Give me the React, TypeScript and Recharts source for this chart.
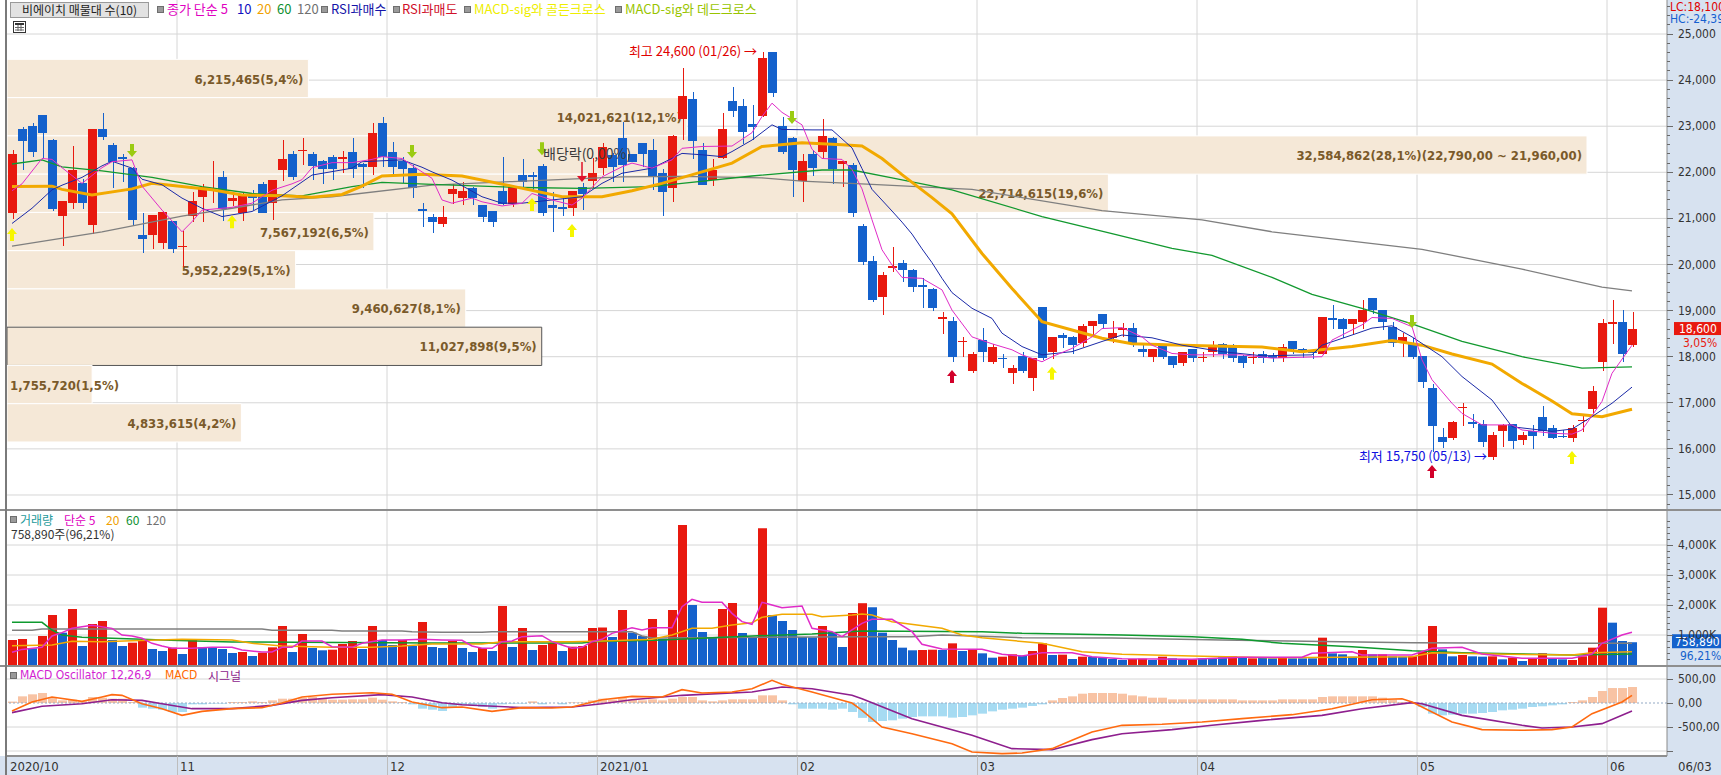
import React from 'react';
import { ComposedChart, Bar, Line, XAxis, YAxis, ReferenceArea, ReferenceDot, ReferenceLine, Cell } from 'recharts';

// ---------------- DATA ----------------
const OPEN = [21120,22940,23000,23240,22700,21050,21330,21760,20860,22940,22590,22330,22090,20640,20630,20470,20940,20400,21050,21470,21630,21890,21370,21120,21490,21740,21330,22040,22400,22480,22400,22250,22330,22280,22450,22180,22120,23060,22450,22250,22090,21200,21040,20870,21520,21440,21650,21290,21150,21600,21310,21940,21940,22140,21290,21240,21220,21690,21810,22090,22370,22750,22390,22630,22480,21980,21670,23150,23580,22480,21830,22320,23550,23440,23050,23220,24600,23000,22750,21820,22390,22430,22740,22170,22160,20840,20080,19300,19950,20040,19880,19550,19470,18810,18770,18330,17690,18360,17890,17980,17650,18020,17530,19070,18110,18470,18430,18300,18670,18920,18410,18600,18630,18160,18000,18250,18020,17860,18160,17990,18110,18270,18200,18020,17990,18060,18020,17970,18330,18160,18120,18060,18830,18820,18720,18760,19270,19010,18640,18300,18280,18020,17320,16260,16230,16890,16590,16540,15830,16390,16540,16190,16390,16700,16450,16280,16240,16610,16860,17890,18740,18750,18250];
const HIGH = [22480,22990,23060,23250,22720,21380,22560,21850,22940,23290,22630,22400,22110,21120,21070,21150,20950,20730,21580,21750,22250,22030,21500,21580,21620,21780,21830,22700,22470,22740,22450,22270,22380,22470,22740,22200,23060,23190,22650,22340,22160,21330,21100,21260,21740,21780,21690,21300,21150,22340,21720,22290,22000,22170,21580,21440,21590,21760,22300,22630,22420,23100,22400,22630,22720,22080,22800,24260,23740,22630,22280,23290,23860,23580,23450,24600,24600,23190,22760,22390,22480,23160,22760,22250,22200,20870,20190,19840,20370,20090,19900,19700,19480,18960,18860,18430,18110,18630,18280,18050,17820,18110,17980,19070,18430,18510,18450,18700,18780,18920,18770,18730,18730,18300,18160,18280,18020,18110,18160,18110,18330,18290,18280,18040,18110,18120,18080,18280,18330,18190,18160,18870,19120,18830,18820,19230,19270,19010,18760,18510,18410,18020,17400,16450,16600,17000,16760,16630,16370,16540,16540,16370,16520,16920,16520,16400,16510,16740,17370,18820,19230,19010,18980];
const LOW = [20990,22050,22340,22300,21150,20410,21200,21200,20660,22700,21670,21800,20830,20260,20340,20340,20250,19950,20930,20930,21330,20950,21260,20950,21180,21120,20970,21820,21830,22160,21830,21750,21830,21990,21870,21650,21940,22120,21920,21760,21450,20820,20680,20820,21310,21290,21280,20930,20820,21290,21250,21650,21600,21060,20710,21060,21060,21180,21650,21940,21800,21800,22230,22120,21620,21060,21360,22700,22280,21720,21710,22290,23190,22610,22700,23200,23640,22390,21470,21360,21910,22280,21740,21690,21040,20000,19180,18900,19840,19610,19410,19060,19000,18490,17890,18000,17650,17890,17840,17750,17400,17650,17250,17930,17960,18180,18060,18200,18430,18610,18300,18430,18220,18000,17890,17960,17750,17800,17880,17890,18000,17950,17890,17750,17840,17860,17890,17890,18060,17970,17950,18030,18590,18410,18460,18600,18920,18580,18200,18000,17950,17320,15940,16010,16200,16500,16450,16050,15750,16050,15990,16090,15990,16280,16210,16230,16140,16370,16770,17700,18280,17890,18200];
const CLOSE = [22400,22690,22430,22850,21200,21380,22050,21330,22940,22770,22230,22290,20970,20550,21070,21130,20330,20410,21380,21690,21660,21200,21440,21520,21440,21120,21830,22290,21890,22490,22140,22070,22070,22340,22070,22120,22860,22330,22120,22070,21670,21170,20930,21040,21640,21600,21440,21020,20930,21310,21690,21780,21890,21110,21220,21220,21590,21520,21980,22540,22120,22160,22230,22390,21930,21580,22790,23660,22690,21720,22050,22940,23340,22880,22990,24490,23730,22430,22040,22250,22090,22790,22070,22250,21120,20060,19220,19770,19960,19870,19520,19520,19060,18870,18000,18350,18050,18110,18220,17960,17750,17700,17970,17970,18430,18410,18250,18670,18770,18720,18510,18620,18300,18110,18160,18000,17820,18110,17970,18000,18220,18060,17970,17860,18000,17970,17970,18220,18160,18110,18080,18870,18810,18600,18820,19010,19010,18760,18300,18420,18000,17460,16500,16140,16590,16910,16530,16140,16300,16520,16180,16300,16290,16380,16240,16260,16450,16630,17260,18730,18750,18050,18600];
// volume in thousands of shares
const VOLUME = [833,867,556,967,1667,1078,1867,633,1367,1467,833,633,744,833,533,467,578,367,856,589,580,533,400,433,300,411,589,1300,433,1033,567,490,510,700,800,533,1300,833,667,833,633,1433,600,567,800,567,433,567,467,1967,600,1233,500,667,733,467,611,633,1233,1250,933,1833,1078,967,1533,878,1833,4667,2000,1100,933,1867,2067,1067,933,4556,1667,1467,1167,933,920,1300,1100,600,1733,2060,1925,1078,833,578,490,500,510,500,722,467,522,389,244,278,356,311,467,722,333,345,200,278,268,244,200,167,200,210,167,278,222,200,189,222,222,256,289,256,222,256,222,256,222,222,222,911,389,356,278,500,356,356,289,278,289,444,1300,522,289,333,289,278,289,189,244,133,222,389,222,189,167,289,578,1911,1411,800,759];
// volume bar colour, 10 bars per group: r = red, b = blue
const VOL_DIR = ['rrbrrbrbrr','bbrrbbrbrb','bbbrbrrrbr','bbrrrbrbbr','brbbrbbrbr','brbrrbrrrr','brbbrbrrbb','brrbbrbbbb','brbbrrbbbb','brrbrbrbbr','rbrrbrbrbb','bbrrbrbbrb','bbrbrbbrbb','brbbbrbrbb','rrrbbrbbrb','rbrrbbrrrr','bbb'].join('');
const OSC = [30,139,181,208,125,55,69,35,125,111,90,90,21,-97,-118,-139,-187,-187,-28,-28,-14,-14,21,21,35,21,55,90,90,111,125,90,69,69,76,76,111,69,35,21,-28,-118,-139,-167,-83,-49,-49,-83,-118,-28,-14,-14,35,-28,0,-28,14,14,55,90,69,111,69,55,76,55,90,125,125,55,35,55,76,76,76,160,160,55,-28,-118,-118,-118,-139,-118,-187,-310,-396,-375,-361,-326,-292,-278,-278,-278,-305,-292,-257,-222,-174,-139,-118,-97,-62,-28,55,104,139,194,208,208,208,194,160,139,111,111,76,76,76,76,76,76,76,55,55,55,55,76,76,76,76,125,139,139,139,139,139,111,76,21,-7,-83,-222,-257,-243,-222,-222,-208,-187,-153,-139,-118,-83,-69,-49,-28,21,55,125,250,312,312,333];

// moving averages: [candle index, value]
const MA5_PTS = [[0,21600],[1,21750],[3,22300],[4,22280],[5,22100],[7,21760],[9,22100],[10,22230],[12,22270],[13,21700],[15,21180],[17,20710],[18,20930],[19,21180],[22,21240],[24,21330],[26,21610],[28,21750],[29,21840],[30,22100],[32,22210],[34,22210],[36,22280],[37,22340],[39,22300],[40,22150],[42,21870],[43,21400],[44,21330],[46,21440],[47,21360],[49,21270],[51,21330],[52,21540],[54,21400],[56,21290],[57,21440],[59,21900],[61,22120],[62,22200],[64,22090],[66,22270],[67,22520],[69,22560],[72,22570],[74,22860],[75,23210],[76,23500],[77,23300],[79,23030],[80,22500],[81,22300],[83,22280],[84,22060],[85,21640],[86,20970],[87,20320],[88,19990],[89,19720],[91,19700],[93,19450],[94,19010],[96,18430],[98,18280],[100,18150],[101,18040],[103,17890],[104,18000],[106,18180],[108,18430],[109,18610],[111,18630],[113,18430],[114,18250],[116,18070],[118,18040],[123,18040],[126,17970],[131,18000],[132,18360],[135,18690],[136,18850],[138,18830],[140,18650],[141,17930],[142,17500],[144,16990],[145,16770],[147,16520],[150,16520],[151,16410],[154,16340],[156,16320],[157,16410],[159,17030],[160,17640],[162,18250]];
const MA10_PTS = [[0,20890],[2,21220],[4,21620],[5,21720],[7,21890],[9,22140],[10,22240],[12,22090],[13,21850],[15,21730],[17,21440],[19,21220],[21,21040],[24,21150],[27,21490],[30,21940],[34,22090],[35,22230],[39,22270],[41,22110],[42,22010],[44,21830],[47,21470],[49,21330],[51,21330],[54,21400],[57,21470],[59,21760],[61,21980],[64,22090],[67,22410],[69,22380],[71,22340],[72,22450],[74,22700],[76,23030],[77,22930],[80,22920],[82,22920],[84,22530],[85,22080],[86,21630],[88,21160],[89,20920],[90,20660],[91,20340],[92,20040],[93,19700],[94,19390],[96,19050],[98,18830],[99,18510],[101,18220],[103,18040],[106,18110],[109,18330],[111,18470],[114,18410],[117,18250],[121,18110],[125,18020],[130,18040],[131,18250],[134,18470],[136,18620],[138,18670],[140,18430],[143,18000],[145,17570],[148,17060],[150,16480],[154,16380],[156,16430],[158,16700],[160,16990],[162,17340]];
const MA20_PTS = [[0,21690],[4,21700],[5,21630],[8,21510],[12,21640],[14,21760],[17,21690],[20,21620],[23,21510],[27,21490],[30,21460],[33,21520],[35,21700],[37,21920],[41,21960],[45,21920],[50,21700],[55,21470],[59,21470],[62,21600],[65,21760],[69,22010],[72,22200],[75,22560],[79,22640],[83,22600],[85,22570],[87,22300],[89,21950],[92,21450],[94,21100],[97,20240],[100,19480],[103,18760],[106,18580],[109,18400],[112,18280],[119,18240],[125,18210],[129,18110],[134,18220],[138,18350],[141,18250],[144,18060],[148,17840],[151,17420],[154,17040],[156,16760],[159,16700],[162,16860]];
const MA60_PTS = [[0,22180],[3,22270],[5,22120],[9,22030],[14,21890],[19,21690],[24,21540],[29,21490],[34,21690],[37,21780],[42,21740],[51,21670],[57,21650],[64,21690],[67,21760],[74,21920],[81,22050],[84,22050],[88,21880],[94,21620],[103,21040],[110,20670],[116,20350],[120,20200],[126,19720],[130,19350],[135,19050],[140,18710],[145,18330],[151,18000],[157,17750],[162,17780]];
const MA120_PTS = [[0,20400],[9,20710],[17,21050],[22,21220],[27,21400],[32,21470],[42,21720],[50,21800],[61,21900],[67,21910],[75,21880],[79,21810],[86,21740],[96,21630],[109,21170],[119,20970],[126,20710],[141,20330],[151,19900],[159,19510],[162,19430]];
const VMA5_PTS = [[0,422],[1,520],[3,590],[4,967],[5,1078],[6,1222],[8,1322],[10,1222],[11,1000],[12,967],[13,889],[14,722],[15,633],[16,556],[18,556],[20,589],[22,589],[23,500],[25,433],[26,433],[27,589],[28,589],[29,800],[31,800],[32,611],[34,589],[35,722],[37,833],[39,833],[41,856],[43,833],[45,822],[46,633],[47,556],[48,556],[49,778],[50,800],[51,944],[53,978],[54,778],[55,667],[56,556],[57,589],[58,778],[59,856],[60,1056],[62,1244],[63,1167],[64,1244],[66,1244],[67,1944],[68,2189],[69,2089],[71,2089],[72,1722],[73,1444],[74,1356],[75,2089],[76,2000],[77,1911],[79,1967],[80,1222],[82,1111],[83,944],[84,1167],[85,1389],[86,1522],[88,1522],[90,1111],[91,689],[93,533],[97,522],[99,356],[101,300],[103,411],[106,411],[108,278],[111,211],[118,189],[123,256],[129,256],[130,389],[134,444],[135,333],[140,333],[142,556],[145,589],[147,367],[151,222],[156,222],[158,367],[159,722],[161,1000],[162,1089]];
const VMA20_PTS = [[0,644],[4,667],[6,789],[9,778],[12,811],[17,856],[22,833],[24,722],[27,633],[32,589],[36,589],[39,633],[42,700],[47,700],[49,778],[56,778],[60,811],[64,856],[66,1000],[68,1222],[70,1222],[72,1333],[74,1411],[75,1589],[77,1689],[80,1689],[81,1611],[84,1667],[85,1700],[86,1667],[88,1444],[93,1222],[95,1000],[97,911],[103,722],[107,444],[111,356],[118,300],[126,244],[140,278],[142,411],[148,367],[156,333],[158,411],[162,444]];
const VMA60_PTS = [[0,1422],[3,1422],[4,1167],[5,1000],[7,922],[10,889],[13,856],[15,833],[22,767],[42,733],[57,733],[58,778],[65,833],[74,967],[80,1033],[85,1133],[97,1111],[101,1056],[111,1000],[118,944],[123,856],[127,722],[134,611],[140,478],[145,411],[156,333],[162,367]];
const VMA120_PTS = [[0,1156],[2,1156],[3,1200],[25,1200],[26,1156],[32,1156],[33,1133],[39,1133],[40,1111],[43,1089],[47,1089],[48,1111],[62,1111],[63,967],[64,900],[85,944],[90,944],[93,1000],[101,911],[110,900],[121,833],[140,744],[156,722],[162,722]];
const MACD_PTS = [[0,-167],[2,21],[4,125],[7,35],[9,125],[10,174],[11,160],[13,-14],[15,-118],[17,-257],[19,-174],[22,-118],[25,-97],[27,0],[29,125],[32,181],[36,215],[38,181],[40,21],[43,-97],[45,-83],[48,-174],[51,-97],[54,-104],[56,-83],[59,69],[62,139],[65,125],[67,278],[69,208],[72,229],[74,298],[76,472],[77,389],[80,229],[84,0],[85,-153],[87,-500],[90,-639],[94,-847],[96,-1020],[99,-1055],[101,-1041],[104,-951],[106,-778],[108,-604],[111,-465],[115,-444],[119,-396],[123,-326],[128,-243],[132,-118],[136,69],[139,90],[140,21],[142,-187],[144,-396],[147,-555],[151,-569],[154,-555],[156,-500],[158,-222],[161,21],[162,160]];
const SIGNAL_PTS = [[0,-201],[3,-69],[7,-14],[10,69],[13,55],[15,-14],[18,-118],[22,-118],[26,-49],[29,55],[32,111],[37,174],[40,125],[43,7],[45,-35],[51,-97],[56,-83],[59,-14],[62,69],[67,160],[74,229],[77,333],[80,298],[84,160],[85,90],[90,-326],[96,-673],[100,-951],[104,-972],[108,-763],[111,-639],[116,-555],[120,-465],[125,-361],[131,-257],[135,-118],[140,7],[141,-14],[145,-257],[151,-465],[153,-521],[156,-500],[159,-430],[162,-167]];

// month starts (candle index) and their labels
const MONTH_START = [0,17,38,59,79,97,119,141,160];
const MONTH_LABEL = ['2020/10','11','12','2021/01','02','03','04','05','06'];

// volume-at-price (매물대) bands
const VP_VOLUME = [6215465,14021621,32584862,22714615,7567192,5952229,9460627,11027898,1755720,4833615];
const VP_LABEL = ['6,215,465(5,4%)','14,021,621(12,1%)','32,584,862(28,1%)(22,790,00 ~ 21,960,00)','22,714,615(19,6%)','7,567,192(6,5%)','5,952,229(5,1%)','9,460,627(8,1%)','11,027,898(9,5%)','1,755,720(1,5%)','4,833,615(4,2%)'];
const VP_TOP = 24450;
const VP_STEP = 830;
const VP_CURRENT = 7;

// signals
const GOLDEN_IDX = [0,22,52,56,104,156];
const GOLDEN_PRICE = [20790,21070,21440,20880,17780,15955];
const DEAD_IDX = [12,40,53,78,140];
const DEAD_PRICE = [22330,22310,22370,23050,18620];
const RSI_LOW_IDX = [94,142];
const RSI_LOW_PRICE = [17710,15650];
const RSI_HIGH_IDX = [57];
const RSI_HIGH_PRICE = [21790];

const PRICE_MAJOR = [15000,16000,17000,18000,19000,20000,21000,22000,23000,24000,25000];
const VOL_MAJOR = [1000,2000,3000,4000];
const MACD_MAJOR = [500,0,-500,-1000];

const HIGH_TEXT = '최고 24,600 (01/26) →';
const LOW_TEXT = '최저 15,750 (05/13) →';
const HIGH_IDX = 75; const HIGH_VAL = 24600;
const LOW_IDX = 148; const LOW_VAL = 15750;
const DIV_TEXT = '배당락(0,00%)';
const DIV_IDX = 53; const DIV_PRICE = 22390;
const LAST_PRICE_TEXT = '18,600';
const LAST_CHANGE_TEXT = '3,05%';
const LAST_VOL_TEXT = '758,890';
const LAST_VOL_PCT = '96,21%';

// ---------------- LAYOUT / STYLE ----------------
const W = 1721;
const N_SLOTS = 166;
const PLOT_LEFT = 7;
const AXIS_W = 54;
const SLOT_HALF = (W - PLOT_LEFT - AXIS_W) / N_SLOTS / 2;
const PRICE_DOMAIN = [14696, 25738];
const VOL_DOMAIN = [0, 5167];
const MACD_DOMAIN = [-1104, 771];
const VP_AXIS_MAX = 34234705;
const VP_CHAR_W = 7;
const FONT = "'DejaVu Sans Condensed','Liberation Sans Narrow','Noto Sans CJK KR',sans-serif";
const KFONT = "'Noto Sans CJK KR','DejaVu Sans Condensed',sans-serif";
const RED = '#E8190F';
const BLUE = '#1461CC';
const GRID = '#D6D6D6';
const AXIS_BG = '#D7E2F0';
const SEP = '#8E8E8E';

const rows: any[] = [];
for (let i = 0; i < N_SLOTS; i++) {
  const has = i < CLOSE.length;
  rows.push({
    idx: i,
    o: has ? OPEN[i] : null, h: has ? HIGH[i] : null, l: has ? LOW[i] : null, c: has ? CLOSE[i] : null,
    range: has ? [LOW[i], HIGH[i]] : null,
    vol: has ? VOLUME[i] : null,
    volUp: VOL_DIR[i] === 'r',
    osc: has ? OSC[i] : null,
    ma5: null, ma10: null, ma20: null, ma60: null, ma120: null,
    vm5: null, vm20: null, vm60: null, vm120: null, macd: null, sig: null,
  });
}
const put = (pts: number[][], key: string) => pts.forEach(([i, v]) => { rows[i][key] = v; });
put(MA5_PTS, 'ma5'); put(MA10_PTS, 'ma10'); put(MA20_PTS, 'ma20'); put(MA60_PTS, 'ma60'); put(MA120_PTS, 'ma120');
put(VMA5_PTS, 'vm5'); put(VMA20_PTS, 'vm20'); put(VMA60_PTS, 'vm60'); put(VMA120_PTS, 'vm120');
put(MACD_PTS, 'macd'); put(SIGNAL_PTS, 'sig');

const withMinor = (majors: number[], step: number, count: number) => {
  const out: number[] = [];
  majors.forEach((m) => { for (let k = -count; k <= count; k++) out.push(m + k * step); });
  return Array.from(new Set(out)).sort((a, b) => a - b);
};
const PRICE_TICKS = withMinor(PRICE_MAJOR, 200, 4).filter((v) => v > PRICE_DOMAIN[0] && v < PRICE_DOMAIN[1]);
const VOL_TICKS = withMinor(VOL_MAJOR, 200, 4).filter((v) => v > 0 && v < VOL_DOMAIN[1]);

// ---------------- SHAPES ----------------
const Candle = (props: any) => {
  const { x, y, width, height, payload } = props;
  if (!payload || payload.h == null) return null;
  const top = Math.min(y, y + height);
  const bot = Math.max(y, y + height);
  const { o, h, l, c } = payload;
  const span = h - l;
  const py = (v: number) => (span > 0 ? top + ((h - v) / span) * (bot - top) : top);
  const color = c >= o ? RED : BLUE;
  const cx = Math.round(x + width / 2);
  const bTop = py(Math.max(o, c));
  const bBot = py(Math.min(o, c));
  return (
    <g shapeRendering="crispEdges">
      <line x1={cx} x2={cx} y1={top} y2={bot} stroke={color} strokeWidth={1} />
      <rect x={Math.round(x)} y={bTop} width={width} height={Math.max(1.5, bBot - bTop)} fill={color} />
    </g>
  );
};

const upArrow = (color: string) => (p: any) => {
  const { cx, cy } = p;
  return <path d={`M${cx} ${cy} L${cx + 5} ${cy + 6} L${cx + 2} ${cy + 6} L${cx + 2} ${cy + 13} L${cx - 2} ${cy + 13} L${cx - 2} ${cy + 6} L${cx - 5} ${cy + 6} Z`} fill={color} />;
};
const downArrow = (color: string) => (p: any) => {
  const { cx, cy } = p;
  return <path d={`M${cx} ${cy} L${cx + 5} ${cy - 6} L${cx + 2} ${cy - 6} L${cx + 2} ${cy - 13} L${cx - 2} ${cy - 13} L${cx - 2} ${cy - 6} L${cx - 5} ${cy - 6} Z`} fill={color} />;
};
const thinDownArrow = (color: string) => (p: any) => {
  const { cx, cy } = p;
  return (
    <g>
      <rect x={cx - 0.75} y={cy - 20} width={1.5} height={15} fill={color} />
      <path d={`M${cx} ${cy} L${cx + 5} ${cy - 6} L${cx - 5} ${cy - 6} Z`} fill={color} />
    </g>
  );
};

const makeTick = (majors: number[], fmt: (v: number) => string) => (props: any) => {
  const { x, y, payload } = props;
  const v = payload.value;
  const major = majors.includes(v);
  return (
    <g>
      <line x1={x} x2={x + (major ? 6 : 3)} y1={y} y2={y} stroke="#6a6a6a" shapeRendering="crispEdges" />
      {major && fmt(v) !== '' && (
        <text x={x + 11} y={y} dy={4} fontSize={12} fill="#333" fontFamily={FONT}>{fmt(v)}</text>
      )}
    </g>
  );
};
const PriceTick = makeTick(PRICE_MAJOR, (v) => v.toLocaleString('en-US'));
const VolTick = makeTick(VOL_MAJOR, (v) => `${v.toLocaleString('en-US')}K`);
const MacdTick = makeTick(MACD_MAJOR, (v) => (v === -1000 ? '' : `${v.toLocaleString('en-US')},00`));

const DateTick = (props: any) => {
  const { x, y, payload } = props;
  const k = MONTH_START.indexOf(Number(payload.value));
  const lx = Math.round(x - SLOT_HALF);
  return (
    <g>
      {k > 0 && <line x1={lx} x2={lx} y1={y} y2={y + 19} stroke="#BDBDBD" shapeRendering="crispEdges" />}
      <text x={lx + 3} y={y + 15} fontSize={13} fill="#333" fontFamily={FONT}>{k >= 0 ? MONTH_LABEL[k] : ''}</text>
    </g>
  );
};

const BandLabel = (text: string) => (p: any) => {
  const fits = p.cx - 5 - text.length * VP_CHAR_W > PLOT_LEFT;
  return (
    <text x={fits ? p.cx - 5 : PLOT_LEFT + 3} y={p.cy} dy={5} textAnchor={fits ? 'end' : 'start'} fontSize={13} fontWeight={700} fill="#7A5A2A" fontFamily={FONT}>{text}</text>
  );
};

const monthLines = MONTH_START.slice(1).map((m) => (
  <ReferenceLine key={`m${m}`} xAxisId="num" x={m} stroke={GRID} zIndex={-100} />
));

const Sq = ({ x, y }: { x: number; y: number }) => (
  <div style={{ position: 'absolute', left: x, top: y, width: 5, height: 5, background: '#9A9A9A', border: '1px solid #6E6E6E' }} />
);
const T = ({ x, y, color, children, size = 13, font = KFONT, weight = 400 }: any) => (
  <div style={{ position: 'absolute', left: x, top: y, color, fontSize: size, fontFamily: font, fontWeight: weight, whiteSpace: 'nowrap', lineHeight: '15px' }}>{children}</div>
);

export default function App() {
  const last = CLOSE.length - 1;
  return (
    <div style={{ position: 'absolute', left: 0, top: 0, width: W, height: 775, overflow: 'hidden', background: '#fff' }}>
      {/* axis backgrounds */}
      <div style={{ position: 'absolute', left: 1667, top: 0, width: W - 1667, height: 775, background: AXIS_BG }} />
      <div style={{ position: 'absolute', left: 0, top: 756, width: W, height: 19, background: AXIS_BG }} />

      {/* PRICE PANEL */}
      <div style={{ position: 'absolute', left: 0, top: 0 }}>
        <ComposedChart width={W} height={509} data={rows} margin={{ top: 0, right: 0, bottom: 0, left: PLOT_LEFT }}>
          <XAxis dataKey="idx" hide />
          <XAxis xAxisId="num" type="number" dataKey="idx" domain={[0, N_SLOTS]} hide allowDataOverflow />
          <XAxis xAxisId="vp" type="number" dataKey="idx" domain={[0, VP_AXIS_MAX]} hide allowDataOverflow />
          <YAxis orientation="right" width={AXIS_W} domain={PRICE_DOMAIN} allowDataOverflow ticks={PRICE_TICKS} interval={0}
            tickLine={false} tickSize={0} tickMargin={0} axisLine={{ stroke: '#8a8a8a' }} tick={PriceTick} />
          {PRICE_MAJOR.map((v) => <ReferenceLine key={`g${v}`} y={v} stroke={GRID} zIndex={-100} />)}
          {monthLines}
          {VP_VOLUME.map((v, k) => (
            <ReferenceArea key={`vp${k}`} xAxisId="vp" x1={0} x2={v} y1={VP_TOP - (k + 1) * VP_STEP} y2={VP_TOP - k * VP_STEP}
              fill="#F5E8D7" fillOpacity={1} stroke={k === VP_CURRENT ? '#555' : '#ffffff'} strokeWidth={1} zIndex={-60} ifOverflow="visible" />
          ))}
          {VP_VOLUME.map((v, k) => (
            <ReferenceDot key={`vpl${k}`} xAxisId="vp" x={v} y={VP_TOP - (k + 0.5) * VP_STEP} r={0} zIndex={-50} ifOverflow="visible"
              shape={BandLabel(VP_LABEL[k])} />
          ))}
          <Bar dataKey="range" barSize={9} shape={Candle} isAnimationActive={false} />
          <Line dataKey="ma120" stroke="#7F7F7F" strokeWidth={1.3} dot={false} activeDot={false} connectNulls isAnimationActive={false} />
          <Line dataKey="ma60" stroke="#12992F" strokeWidth={1.3} dot={false} activeDot={false} connectNulls isAnimationActive={false} />
          <Line dataKey="ma20" stroke="#F2A900" strokeWidth={3} dot={false} activeDot={false} connectNulls isAnimationActive={false} />
          <Line dataKey="ma10" stroke="#1B2AA8" strokeWidth={1} dot={false} activeDot={false} connectNulls isAnimationActive={false} />
          <Line dataKey="ma5" stroke="#E02CC8" strokeWidth={1} dot={false} activeDot={false} connectNulls isAnimationActive={false} />
          {GOLDEN_IDX.map((i, k) => (
            <ReferenceDot key={`gc${k}`} xAxisId="num" x={i + 0.5} y={GOLDEN_PRICE[k]} r={0} shape={upArrow('#F6F600')} />
          ))}
          {DEAD_IDX.map((i, k) => (
            <ReferenceDot key={`dc${k}`} xAxisId="num" x={i + 0.5} y={DEAD_PRICE[k]} r={0} shape={downArrow('#9BCB12')} />
          ))}
          {RSI_LOW_IDX.map((i, k) => (
            <ReferenceDot key={`rl${k}`} xAxisId="num" x={i + 0.5} y={RSI_LOW_PRICE[k]} r={0} shape={upArrow('#D2002A')} />
          ))}
          {RSI_HIGH_IDX.map((i, k) => (
            <ReferenceDot key={`rh${k}`} xAxisId="num" x={i + 0.5} y={RSI_HIGH_PRICE[k]} r={0} shape={thinDownArrow('#E0102A')} />
          ))}
          <ReferenceDot xAxisId="num" x={HIGH_IDX + 0.5} y={HIGH_VAL} r={0} shape={(p: any) => (
            <text x={p.cx - 5} y={p.cy} dy={4} textAnchor="end" fontSize={13} fill="#E00000" fontFamily={KFONT}>{HIGH_TEXT}</text>
          )} />
          <ReferenceDot xAxisId="num" x={LOW_IDX + 0.5} y={LOW_VAL} r={0} shape={(p: any) => (
            <text x={p.cx - 5} y={p.cy} dy={1} textAnchor="end" fontSize={13} fill="#1010E0" fontFamily={KFONT}>{LOW_TEXT}</text>
          )} />
          <ReferenceDot xAxisId="num" x={DIV_IDX + 0.5} y={DIV_PRICE} r={0} shape={(p: any) => (
            <text x={p.cx + 1} y={p.cy} dy={5} textAnchor="start" fontSize={14} fill="#3A3A3A" fontFamily={KFONT}>{DIV_TEXT}</text>
          )} />
          <ReferenceDot xAxisId="num" x={N_SLOTS} y={CLOSE[last]} r={0} ifOverflow="visible" shape={(p: any) => (
            <g>
              <rect x={p.cx + 7} y={p.cy - 7} width={W - p.cx - 7} height={13} fill="#E8190F" />
              <text x={p.cx + 12} y={p.cy} dy={4} fontSize={12} fill="#fff" fontFamily={FONT}>{LAST_PRICE_TEXT}</text>
              <text x={p.cx + 16} y={p.cy + 14} dy={4} fontSize={12} fill="#E8190F" fontFamily={FONT}>{LAST_CHANGE_TEXT}</text>
            </g>
          )} />
        </ComposedChart>
      </div>

      {/* VOLUME PANEL */}
      <div style={{ position: 'absolute', left: 0, top: 510 }}>
        <ComposedChart width={W} height={155} data={rows} margin={{ top: 0, right: 0, bottom: 0, left: PLOT_LEFT }}>
          <XAxis dataKey="idx" hide />
          <XAxis xAxisId="num" type="number" dataKey="idx" domain={[0, N_SLOTS]} hide allowDataOverflow />
          <YAxis orientation="right" width={AXIS_W} domain={VOL_DOMAIN} allowDataOverflow ticks={VOL_TICKS} interval={0}
            tickLine={false} tickSize={0} tickMargin={0} axisLine={{ stroke: '#8a8a8a' }} tick={VolTick} />
          {VOL_MAJOR.map((v) => <ReferenceLine key={`vg${v}`} y={v} stroke={GRID} zIndex={-100} />)}
          {monthLines}
          <Bar dataKey="vol" barSize={9} isAnimationActive={false}>
            {rows.map((r, i) => <Cell key={`v${i}`} fill={r.volUp ? RED : BLUE} />)}
          </Bar>
          <Line dataKey="vm120" stroke="#7F7F7F" strokeWidth={1.5} dot={false} activeDot={false} connectNulls isAnimationActive={false} />
          <Line dataKey="vm60" stroke="#0E9A2E" strokeWidth={1.5} dot={false} activeDot={false} connectNulls isAnimationActive={false} />
          <Line dataKey="vm20" stroke="#F2A900" strokeWidth={1.5} dot={false} activeDot={false} connectNulls isAnimationActive={false} />
          <Line dataKey="vm5" stroke="#E02CC8" strokeWidth={1.5} dot={false} activeDot={false} connectNulls isAnimationActive={false} />
          <ReferenceDot xAxisId="num" x={N_SLOTS} y={VOLUME[last]} r={0} ifOverflow="visible" shape={(p: any) => (
            <g>
              <rect x={p.cx + 5} y={p.cy - 8} width={W - p.cx - 5} height={14} fill="#1461CC" />
              <text x={p.cx + 8} y={p.cy} dy={4} fontSize={12} fill="#fff" fontFamily={FONT}>{LAST_VOL_TEXT}</text>
              <text x={p.cx + 13} y={p.cy + 14} dy={4} fontSize={12} fill="#1461CC" fontFamily={FONT}>{LAST_VOL_PCT}</text>
            </g>
          )} />
        </ComposedChart>
      </div>

      {/* MACD PANEL */}
      <div style={{ position: 'absolute', left: 0, top: 666 }}>
        <ComposedChart width={W} height={109} data={rows} margin={{ top: 0, right: 0, bottom: 0, left: PLOT_LEFT }}>
          <XAxis dataKey="idx" ticks={MONTH_START} interval={0} height={19} tickLine={false} tickSize={0} tickMargin={0}
            axisLine={{ stroke: SEP, strokeWidth: 2 }} tick={DateTick} />
          <XAxis xAxisId="num" type="number" dataKey="idx" domain={[0, N_SLOTS]} hide allowDataOverflow />
          <YAxis orientation="right" width={AXIS_W} domain={MACD_DOMAIN} allowDataOverflow ticks={MACD_MAJOR} interval={0}
            tickLine={false} tickSize={0} tickMargin={0} axisLine={{ stroke: '#8a8a8a' }} tick={MacdTick} />
          {[500, -500, -1000].map((v) => <ReferenceLine key={`mg${v}`} y={v} stroke={GRID} zIndex={-100} />)}
          {monthLines}
          <Bar dataKey="osc" barSize={9} isAnimationActive={false}>
            {rows.map((r, i) => <Cell key={`o${i}`} fill={r.osc != null && r.osc < 0 ? '#A6DBF2' : '#F8C3A4'} />)}
          </Bar>
          <ReferenceLine y={0} stroke="#93A9C4" strokeDasharray="2 2" />
          <Line dataKey="sig" stroke="#8E1F8E" strokeWidth={1.6} dot={false} activeDot={false} connectNulls isAnimationActive={false} />
          <Line dataKey="macd" stroke="#FF6A10" strokeWidth={1.6} dot={false} activeDot={false} connectNulls isAnimationActive={false} />
        </ComposedChart>
      </div>

      {/* panel separators and border */}
      <div style={{ position: 'absolute', left: 0, top: 509, width: W, height: 2, background: SEP }} />
      <div style={{ position: 'absolute', left: 0, top: 665, width: W, height: 2, background: SEP }} />
      <div style={{ position: 'absolute', left: 5, top: 0, width: 2, height: 775, background: '#7A7A7A' }} />

      {/* price legend */}
      <div style={{ position: 'absolute', left: 10, top: 2, width: 137, height: 14, background: '#E2E2E2', border: '1px solid #9A9A9A', fontFamily: KFONT, fontSize: 12, lineHeight: '14px', textAlign: 'center', color: '#222' }}>비에이치 매물대 수(10)</div>
      <svg style={{ position: 'absolute', left: 13, top: 21 }} width={13} height={12}>
        <rect x={0.5} y={0.5} width={12} height={11} fill="#fff" stroke="#333" />
        <rect x={2} y={2} width={9} height={2} fill="#333" />
        <line x1={2} x2={11} y1={6.5} y2={6.5} stroke="#666" />
        <line x1={2} x2={11} y1={9} y2={9} stroke="#666" />
        <line x1={5} x2={5} y1={4} y2={10} stroke="#666" />
        <line x1={8} x2={8} y1={4} y2={10} stroke="#666" />
      </svg>
      <Sq x={157} y={6} />
      <T x={167} y={1} color="#E000C0">종가 단순 5</T>
      <T x={237} y={1} color="#1010C0">10</T>
      <T x={257} y={1} color="#F0A000">20</T>
      <T x={277} y={1} color="#109030">60</T>
      <T x={297} y={1} color="#707070">120</T>
      <Sq x={321} y={6} />
      <T x={331} y={1} color="#1414A8">RSI과매수</T>
      <Sq x={393} y={6} />
      <T x={402} y={1} color="#D0102A">RSI과매도</T>
      <Sq x={464} y={6} />
      <T x={474} y={1} color="#EEEE00">MACD-sig와 골든크로스</T>
      <Sq x={615} y={6} />
      <T x={625} y={1} color="#99C400">MACD-sig와 데드크로스</T>
      <T x={1670} y={0} size={12} color="#E00000" font={FONT}>LC:18,100</T>
      <T x={1670} y={12} size={12} color="#1560D0" font={FONT}>HC:-24,39%</T>

      {/* volume legend */}
      <Sq x={10} y={516} />
      <T x={20} y={512} size={12} color="#1E9A9A">거래량</T>
      <T x={64} y={512} size={12} color="#E000C0">단순 5</T>
      <T x={106} y={512} size={12} color="#F0A000">20</T>
      <T x={126} y={512} size={12} color="#109030">60</T>
      <T x={146} y={512} size={12} color="#707070">120</T>
      <T x={11} y={526} size={12} color="#333">758,890주(96,21%)</T>

      {/* macd legend */}
      <Sq x={10} y={672} />
      <T x={20} y={668} size={12} color="#D21FD2" font={FONT}>MACD Oscillator 12,26,9</T>
      <T x={165} y={668} size={12} color="#FF6A00" font={FONT}>MACD</T>
      <T x={208} y={668} size={12} color="#8B1A8B">시그널</T>

      <T x={1678} y={759} color="#333" font={FONT}>06/03</T>
    </div>
  );
}
